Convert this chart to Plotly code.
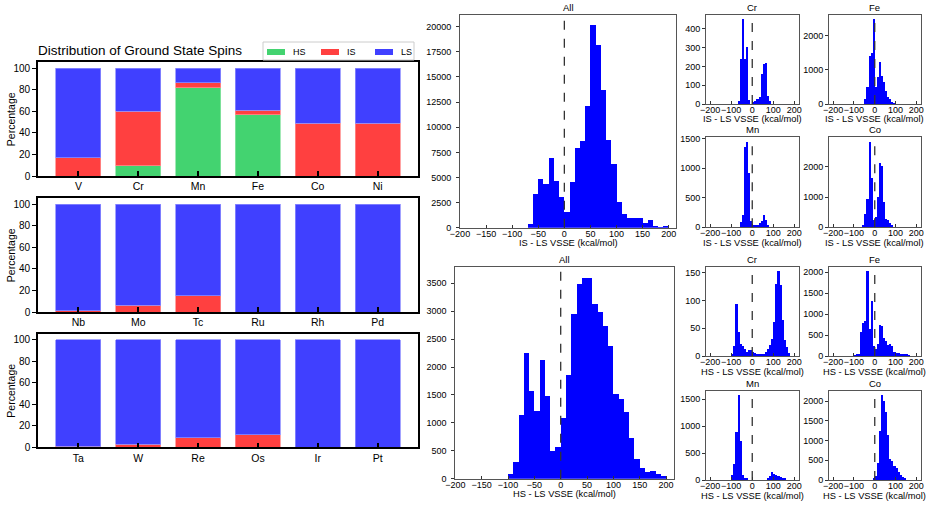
import plotly.graph_objects as go

W, H = 933, 506
FONT = "Liberation Sans, Arial, sans-serif"

# ---------------- data: ground state spin distribution (percent) ----------------
ELEMENTS_3D = ["V", "Cr", "Mn", "Fe", "Co", "Ni"]
HS_3D = [0, 9.3, 81.7, 56.8, 0, 0]
IS_3D = [17.1, 50.6, 4.9, 4.1, 49.1, 49.1]
LS_3D = [82.9, 40.1, 13.4, 39.1, 50.9, 50.9]

ELEMENTS_4D = ["Nb", "Mo", "Tc", "Ru", "Rh", "Pd"]
HS_4D = [0, 0, 0, 0, 0, 0]
IS_4D = [1.0, 6.2, 14.9, 0, 0, 0]
LS_4D = [99.0, 93.8, 85.1, 100, 100, 100]

ELEMENTS_5D = ["Ta", "W", "Re", "Os", "Ir", "Pt"]
HS_5D = [0, 0, 0, 0, 0, 0]
IS_5D = [0.8, 2.8, 9.0, 11.8, 0, 0]
LS_5D = [99.2, 97.2, 91.0, 88.2, 100, 100]

SPIN_STATES = ["HS", "IS", "LS"]

# ---------------- data: VSSE histograms (10 kcal/mol bins, first bin left edge + counts) ----------------
BIN = 10
IS_ALL_START = -70
IS_ALL_COUNTS = [330, 3350, 4840, 4380, 6900, 4640, 3080, 1560, 4540, 7960, 8590, 12070,
                 20160, 18170, 13700, 8720, 6330, 2520, 1330, 930, 930, 930, 430, 730, 170, 50, 170]
HS_ALL_START = -100
HS_ALL_COUNTS = [77, 304, 1149, 2256, 1565, 1220, 2131, 1488, 488, 565,
                 1090, 1857, 2946, 3488, 3589, 3601, 3125, 2982, 2738, 2381,
                 1524, 1434, 1196, 732, 357, 185, 119, 143, 89, 42]

CR_IS_START = -70
CR_IS_COUNTS = [18, 240, 452, 238, 302, 21, 0, 10, 18, 25, 35, 160, 212, 217, 43, 14]
FE_IS_START = -50
FE_IS_COUNTS = [137, 488, 1405, 1502, 2478, 488, 800, 1229, 820, 644, 371, 215, 137, 59, 39]
MN_IS_START = -60
MN_IS_COUNTS = [96, 209, 1367, 1450, 915, 102, 23, 34, 40, 68, 113, 203, 124, 34]
CO_IS_START = -60
CO_IS_COUNTS = [44, 440, 923, 2830, 1626, 242, 330, 989, 2132, 2022, 835, 286, 242, 132, 44]

CR_HS_START = -100
CR_HS_COUNTS = [2, 18, 93, 43, 22, 18, 12, 7, 11, 11, 8, 6, 4, 4, 2, 4, 7, 13, 19, 30,
                61, 130, 152, 128, 65, 28, 16, 6]
FE_HS_START = -100
FE_HS_COUNTS = [16, 32, 49, 583, 777, 826, 2024, 648, 1312, 227, 162, 275, 745, 713, 421,
                356, 259, 291, 227, 97, 81, 65, 49, 49, 32, 32, 16]
MN_HS_START = -100
MN_HS_COUNTS = [98, 293, 890, 1573, 732, 85, 37, 24, 0, 0, 0, 0, 0, 0, 0, 0, 0,
                24, 73, 146, 110, 98, 73, 49, 37, 24]
CO_HS_START = -10
CO_HS_COUNTS = [40, 100, 420, 1240, 2150, 2000, 1730, 1130, 540, 490, 350, 300, 200, 130, 80, 50]

SPIN_COLORS = {"HS": "rgb(67,211,112)", "IS": "rgb(255,64,64)", "LS": "rgb(64,64,255)"}
SPIN_EDGES = {"HS": "rgb(140,228,165)", "IS": "rgb(255,140,140)", "LS": "rgb(140,140,255)"}


def xd(a, b):
    return [a / W, b / W]


def yd(top, bottom):
    return [1 - bottom / H, 1 - top / H]


def px(x):
    return x / W


def py(y):
    return 1 - y / H


fig = go.Figure()
layout = {}
annotations = []
shapes = []

# ---------------- left: stacked bar panels ----------------
bar_panels = [
    (ELEMENTS_3D, HS_3D, IS_3D, LS_3D, (62.3, 176)),
    (ELEMENTS_4D, HS_4D, IS_4D, LS_4D, (198.3, 312)),
    (ELEMENTS_5D, HS_5D, IS_5D, LS_5D, (334, 447.3)),
]
ax = 0
for p, (cats, hs, is_, ls, (top, bot)) in enumerate(bar_panels):
    ax += 1
    xs = "x" if ax == 1 else f"x{ax}"
    ys = "y" if ax == 1 else f"y{ax}"
    for name, vals in zip(SPIN_STATES, (hs, is_, ls)):
        fig.add_trace(go.Bar(
            x=cats, y=vals, name=name, width=0.75,
            marker=dict(color=SPIN_COLORS[name], line=dict(color=SPIN_EDGES[name], width=0.8)),
            xaxis=xs, yaxis=ys, legendgroup=name, showlegend=False,
        ))
    layout[f"xaxis{ax if ax > 1 else ''}"] = dict(
        domain=xd(38, 418), anchor=ys, range=[-0.675, 5.675], type="category",
        ticks="inside", ticklen=5, tickwidth=1.5, tickcolor="black", automargin=False,
        showline=True, mirror=True, linecolor="black", linewidth=1.6, layer="above traces",
        showgrid=False, zeroline=False, tickfont=dict(size=10.5, color="black"),
    )
    layout[f"yaxis{ax if ax > 1 else ''}"] = dict(
        domain=yd(top, bot), anchor=xs, range=[0, 105.5], automargin=False,
        tickvals=[0, 20, 40, 60, 80, 100], ticks="outside", ticklen=4, tickwidth=1.2,
        tickcolor="black", showline=True, mirror=True, linecolor="black", linewidth=1.6,
        showgrid=False, zeroline=False, tickfont=dict(size=10, color="black"),
    )
    annotations.append(dict(text="Percentage", xref="paper", yref="paper", x=px(11),
                            y=py((top + bot) / 2), textangle=-90, showarrow=False,
                            xanchor="center", yanchor="middle",
                            font=dict(size=10.5, color="black")))

# legend box (drawn as shapes + text)
shapes.append(dict(type="rect", xref="paper", yref="paper", x0=px(263), x1=px(414),
                   y0=py(60), y1=py(42), line=dict(color="#cccccc", width=1),
                   fillcolor="white", layer="above"))
for i, name in enumerate(SPIN_STATES):
    x0 = 267 + 54 * i
    shapes.append(dict(type="rect", xref="paper", yref="paper", x0=px(x0), x1=px(x0 + 18),
                       y0=py(55), y1=py(49), line=dict(width=0),
                       fillcolor=SPIN_COLORS[name], layer="above"))
    annotations.append(dict(text=name, xref="paper", yref="paper", x=px(x0 + 24), y=py(52),
                            xanchor="left", yanchor="middle", showarrow=False,
                            font=dict(size=9, color="black")))

# ---------------- right: histograms ----------------
SMALL_XT = [-200, -100, 0, 100, 200]
BIG_XT = list(range(-200, 201, 50))
hist_panels = [
    # title, start, counts, xlabel, (left,right), (top,bottom), xrange, ymax, dtick, xtickvals
    ("All", IS_ALL_START, IS_ALL_COUNTS, "IS - LS VSSE (kcal/mol)", (460, 676), (15, 227.7),
     [-200, 214], 21170, 2500, BIG_XT),
    ("All", HS_ALL_START, HS_ALL_COUNTS, "HS - LS VSSE (kcal/mol)", (455.3, 674), (267.3, 478.7),
     [-200, 215], 3787, 500, BIG_XT),
    ("Cr", CR_IS_START, CR_IS_COUNTS, "IS - LS VSSE (kcal/mol)", (706, 798.5), (14.7, 104),
     [-220, 220], 475, 100, SMALL_XT),
    ("Fe", FE_IS_START, FE_IS_COUNTS, "IS - LS VSSE (kcal/mol)", (829, 920.5), (14.7, 104),
     [-220, 220], 2610, 1000, SMALL_XT),
    ("Mn", MN_IS_START, MN_IS_COUNTS, "IS - LS VSSE (kcal/mol)", (706, 798.5), (137.3, 227.3),
     [-220, 220], 1525, 500, SMALL_XT),
    ("Co", CO_IS_START, CO_IS_COUNTS, "IS - LS VSSE (kcal/mol)", (829, 920.5), (137.3, 227.3),
     [-220, 220], 2970, 1000, SMALL_XT),
    ("Cr", CR_HS_START, CR_HS_COUNTS, "HS - LS VSSE (kcal/mol)", (706, 798.5), (267, 356),
     [-220, 220], 160, 50, SMALL_XT),
    ("Fe", FE_HS_START, FE_HS_COUNTS, "HS - LS VSSE (kcal/mol)", (829, 920.5), (267, 356),
     [-220, 220], 2125, 500, SMALL_XT),
    ("Mn", MN_HS_START, MN_HS_COUNTS, "HS - LS VSSE (kcal/mol)", (706, 798.5), (391, 480),
     [-220, 220], 1652, 500, SMALL_XT),
    ("Co", CO_HS_START, CO_HS_COUNTS, "HS - LS VSSE (kcal/mol)", (829, 920.5), (391, 480),
     [-220, 220], 2258, 500, SMALL_XT),
]

for k, (title, start, counts, xlabel, (l, r), (t, b), xr, ymax, dt, xtv) in enumerate(hist_panels):
    ax += 1
    xs, ys = f"x{ax}", f"y{ax}"
    centers = [start + BIN * i + BIN / 2 for i in range(len(counts))]
    fig.add_trace(go.Bar(
        x=centers, y=counts, width=BIN, marker=dict(color="#0000ff", line=dict(width=0)),
        xaxis=xs, yaxis=ys, showlegend=False, name=title,
    ))
    layout[f"xaxis{ax}"] = dict(
        domain=xd(l, r), anchor=ys, range=xr, tickvals=xtv, tickangle=0, automargin=False,
        ticks="inside", ticklen=3, tickwidth=1, tickcolor="#333", ticklabeloverflow="allow",
        ticklabelstandoff=-3,
        showline=True, mirror=True, linecolor="#555", linewidth=1,
        showgrid=False, zeroline=False, tickfont=dict(size=9, color="black"),
    )
    layout[f"yaxis{ax}"] = dict(
        domain=yd(t, b), anchor=xs, range=[0, ymax], dtick=dt, tick0=0, tickformat="d",
        ticks="outside", ticklen=3, tickwidth=1, tickcolor="#333", automargin=False,
        ticklabelstandoff=(3 if k < 2 else 0),
        showline=True, mirror=True, linecolor="#555", linewidth=1,
        showgrid=False, zeroline=False, tickfont=dict(size=9, color="black"),
    )
    shapes.append(dict(type="line", xref=xs, yref=f"{ys} domain", x0=0, x1=0, y0=0, y1=1,
                       line=dict(color="#333", width=1.3, dash="dash")))
    annotations.append(dict(text=title, xref="paper", yref="paper", x=px((l + r) / 2),
                            y=py(t), xanchor="center", yanchor="bottom", showarrow=False,
                            font=dict(size=9.5, color="black")))
    annotations.append(dict(text=xlabel, xref="paper", yref="paper", x=px((l + r) / 2),
                            y=py(b + 15.5), xanchor="center", yanchor="middle", showarrow=False,
                            font=dict(size=9.3, color="black")))

fig.update_layout(
    width=W, height=H, margin=dict(l=0, r=0, t=0, b=0),
    paper_bgcolor="white", plot_bgcolor="white", barmode="stack",
    font=dict(family=FONT, color="black"), showlegend=False,
    title=dict(text="Distribution of Ground State Spins", x=px(38), xanchor="left",
               xref="paper", yref="paper", y=py(50), yanchor="middle",
               font=dict(size=13.5, color="black")),
    annotations=annotations, shapes=shapes,
    **layout,
)

fig.write_html("out.html")
